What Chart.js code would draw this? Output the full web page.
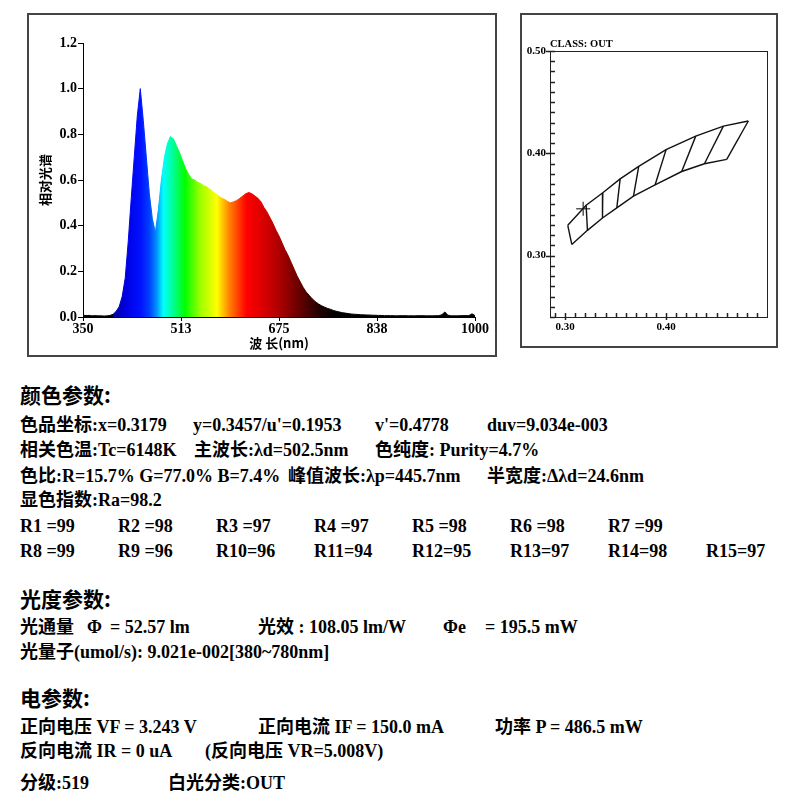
<!DOCTYPE html>
<html>
<head>
<meta charset="utf-8">
<script src="https://cdn.jsdelivr.net/npm/chart.js@4.4.1/dist/chart.umd.min.js"></script>
<style>
body { margin: 0; background: #fff; }
#page { position: relative; width: 800px; height: 800px; overflow: hidden; }
.frame { position: absolute; box-sizing: border-box; border: 2px solid #444; }
canvas { position: absolute; }
.t { position: absolute; white-space: pre; font: bold 18px "Liberation Serif", "Noto Sans CJK SC"; line-height: 20px; color: #000; }
.h { font: bold 21px "Noto Sans CJK SC"; line-height: 26px; }
#cls { position: absolute; left: 550px; top: 38px; font: bold 10.5px "Liberation Serif"; color: #000; }
</style>
</head>
<body>
<div id="page">
  <div class="frame" style="left:27px;top:13px;width:470px;height:344px;"></div>
  <canvas id="spec" width="466" height="340" style="left:29px;top:15px;"></canvas>
  <div class="frame" style="left:520px;top:13px;width:258px;height:335px;"></div>
  <canvas id="cie" width="254" height="331" style="left:522px;top:15px;"></canvas>
  <div id="cls">CLASS: OUT</div>
  <div id="text"></div>
</div>
<script>
// 光谱数据 (nm / 相对光谱)
const wavelengths = [
  350, 355, 360, 365, 370, 375, 380, 385, 390, 395,
  400, 405, 410, 415, 420, 425, 430, 435, 440, 445,
  450, 455, 460, 465, 470, 475, 480, 485, 490, 495,
  500, 505, 510, 515, 520, 525, 530, 535, 540, 545,
  550, 555, 560, 565, 570, 575, 580, 585, 590, 595,
  600, 605, 610, 615, 620, 625, 630, 635, 640, 645,
  650, 655, 660, 665, 670, 675, 680, 685, 690, 695,
  700, 705, 710, 715, 720, 725, 730, 735, 740, 745,
  750, 755, 760, 765, 770, 775, 780, 785, 790, 795,
  800, 810, 820, 830, 840, 850, 860, 870, 880, 890,
  900, 910, 920, 930, 940, 945, 950, 955, 960, 970,
  980, 990, 995, 1000
];
const intensity = [
  0.008, 0.006, 0.007, 0.005, 0.006, 0.005, 0.005, 0.004, 0.005, 0.007,
  0.012, 0.025, 0.045, 0.09, 0.17, 0.33, 0.52, 0.70, 0.88, 1.00,
  0.86, 0.70, 0.54, 0.43, 0.37, 0.47, 0.60, 0.70, 0.76, 0.79,
  0.78, 0.75, 0.72, 0.685, 0.65, 0.625, 0.605, 0.60, 0.59, 0.585,
  0.575, 0.57, 0.56, 0.55, 0.54, 0.53, 0.52, 0.515, 0.505, 0.50,
  0.505, 0.51, 0.52, 0.53, 0.54, 0.545, 0.54, 0.53, 0.52, 0.505,
  0.48, 0.46, 0.435, 0.41, 0.38, 0.355, 0.325, 0.295, 0.27, 0.24,
  0.21, 0.18, 0.155, 0.13, 0.11, 0.095, 0.08, 0.068, 0.058, 0.05,
  0.044, 0.038, 0.034, 0.029, 0.025, 0.022, 0.019, 0.017, 0.015, 0.013,
  0.012, 0.01, 0.009, 0.008, 0.007, 0.006, 0.006, 0.005, 0.006, 0.005,
  0.005, 0.006, 0.005, 0.005, 0.006, 0.01, 0.022, 0.008, 0.005, 0.005,
  0.006, 0.006, 0.014, 0.006
];
const specXTicks = [350, 512.5, 675, 837.5, 1000];
const specYTicks = [0, 0.2, 0.4, 0.6, 0.8, 1.0, 1.2];

// 色坐标分级框 (x, y)
const binTopX = [0.3026, 0.3208, 0.3373, 0.3545, 0.3729, 0.4000, 0.4294, 0.4568, 0.4815];
const binTopY = [0.3296, 0.3493, 0.3615, 0.3750, 0.3872, 0.4036, 0.4168, 0.4266, 0.4316];
const binBottomX = [0.3066, 0.3221, 0.3370, 0.3512, 0.3677, 0.3891, 0.4155, 0.4380, 0.4601];
const binBottomY = [0.3109, 0.3247, 0.3368, 0.3467, 0.3582, 0.3691, 0.3822, 0.3898, 0.3941];
const measuredX = 0.3179;
const measuredY = 0.3457;
const cieXMajor = ['0.30', '0.40'];
const cieYMajor = ['0.30', '0.40', '0.50'];

// 光谱颜色 (nm -> 颜色)
const spectrumStops = [
  [350, '#000000'], [398, '#000000'], [402, '#0000a0'], [420, '#0000e0'],
  [445, '#0010ff'], [460, '#0040ff'], [472, '#0090ff'], [483, '#00ffff'],
  [500, '#00ff90'], [519, '#00ff00'], [545, '#a0ff00'], [572, '#ffff00'],
  [593, '#ff8000'], [621, '#ff0000'], [650, '#d80000'], [682, '#a00000'],
  [712, '#600000'], [742, '#200000'], [770, '#000000'], [1000, '#000000']
];

const rainbow = (ctx) => {
  const chart = ctx.chart;
  if (!chart.chartArea) return '#0000ff';
  const xs = chart.scales.x;
  const x0 = xs.getPixelForValue(350);
  const x1 = xs.getPixelForValue(1000);
  const g = chart.ctx.createLinearGradient(x0, 0, x1, 0);
  spectrumStops.forEach(([w, c]) => g.addColorStop((w - 350) / 650, c));
  return g;
};

const tickFont = { family: 'Liberation Serif', size: 14, weight: 'bold' };

new Chart(document.getElementById('spec').getContext('2d'), {
  type: 'line',
  data: {
    datasets: [{
      data: wavelengths.map((w, i) => ({ x: w, y: intensity[i] })),
      fill: 'origin',
      backgroundColor: rainbow,
      borderColor: rainbow,
      borderWidth: 1,
      pointRadius: 0,
      tension: 0
    }]
  },
  options: {
    responsive: false,
    animation: false,
    layout: { padding: { left: 0, top: 28, right: 20, bottom: 0 } },
    plugins: { legend: { display: false }, tooltip: { enabled: false } },
    scales: {
      x: {
        type: 'linear', min: 350, max: 1000,
        afterBuildTicks: s => { s.ticks = specXTicks.map(v => ({ value: v })); },
        afterFit: s => { s.height = 38; },
        ticks: { callback: v => String(Math.round(v)), font: tickFont, color: '#000', padding: 0, maxRotation: 0 },
        grid: { drawOnChartArea: false, tickLength: 4, color: '#000' },
        border: { color: '#000', width: 1 },
        title: { display: true, text: '波 长(nm)', color: '#000', font: { family: 'Noto Sans CJK SC', size: 13, weight: 'bold' }, padding: { top: 0, bottom: 4 } }
      },
      y: {
        min: 0, max: 1.2,
        afterBuildTicks: s => { s.ticks = specYTicks.map(v => ({ value: v })); },
        afterFit: s => { s.width = 54; },
        ticks: { callback: v => v.toFixed(1), font: tickFont, color: '#000', padding: 1 },
        grid: { drawOnChartArea: false, tickLength: 5, color: '#000' },
        border: { color: '#000', width: 1 },
        title: { display: true, text: '相对光谱', color: '#000', font: { family: 'Noto Sans CJK SC', size: 13, weight: 'bold' }, padding: { top: 8, bottom: 0 } }
      }
    }
  }
});

// 右图: 内侧刻度和外框
const innerTicks = {
  id: 'innerTicks',
  afterDraw(chart) {
    const { ctx, chartArea: a, scales: { x, y } } = chart;
    const isMajor = v => Math.abs(v * 10 - Math.round(v * 10)) < 1e-6;
    ctx.save();
    ctx.strokeStyle = '#222';
    ctx.lineWidth = 1;
    ctx.strokeRect(a.left + 0.5, a.top + 0.5, a.width, a.height);
    ctx.lineWidth = 1.5;
    ctx.beginPath();
    x.ticks.forEach(t => {
      const px = Math.round(x.getPixelForValue(t.value)) + 0.5;
      ctx.moveTo(px, a.bottom + (isMajor(t.value) ? 3 : 0));
      ctx.lineTo(px, a.bottom - 4);
    });
    y.ticks.forEach(t => {
      const py = Math.round(y.getPixelForValue(t.value)) + 0.5;
      ctx.moveTo(a.left - (isMajor(t.value) ? 4 : 0), py);
      ctx.lineTo(a.left + 5, py);
    });
    ctx.stroke();
    ctx.restore();
  }
};

const lineSet = (pts) => ({
  data: pts, showLine: true, borderColor: '#111', borderWidth: 1.4,
  pointRadius: 0, fill: false, tension: 0
});

const cieSets = [
  lineSet(binTopX.map((x, i) => ({ x, y: binTopY[i] }))),
  lineSet(binBottomX.map((x, i) => ({ x, y: binBottomY[i] })))
];
binTopX.forEach((x, i) => {
  cieSets.push(lineSet([{ x, y: binTopY[i] }, { x: binBottomX[i], y: binBottomY[i] }]));
});
cieSets.push({
  data: [{ x: measuredX, y: measuredY }],
  pointStyle: 'cross', pointRadius: 7, borderColor: '#555', borderWidth: 1.5,
  backgroundColor: '#555'
});

const cieFont = { family: 'Liberation Serif', size: 11, weight: 'bold' };
const majorLabel = (list) => (v) => {
  const s = Number(v).toFixed(2);
  return list.includes(s) ? s : '';
};

new Chart(document.getElementById('cie').getContext('2d'), {
  type: 'scatter',
  data: { datasets: cieSets },
  options: {
    responsive: false,
    animation: false,
    layout: { padding: { left: 0, top: 36, right: 9, bottom: 0 } },
    plugins: { legend: { display: false }, tooltip: { enabled: false } },
    scales: {
      x: {
        type: 'linear', min: 0.285, max: 0.50,
        afterBuildTicks: s => {
          const t = [];
          for (let k = 29; k <= 49; k++) t.push({ value: k / 100 });
          s.ticks = t;
        },
        afterFit: s => { s.height = 29; },
        ticks: { callback: majorLabel(cieXMajor), font: cieFont, color: '#000', padding: 4, autoSkip: false, maxRotation: 0 },
        grid: { display: false, drawTicks: false, tickLength: 0 },
        border: { display: false }
      },
      y: {
        type: 'linear', min: 0.24, max: 0.50,
        ticks: { stepSize: 0.01, callback: majorLabel(cieYMajor), font: cieFont, color: '#000', padding: 4, autoSkip: false },
        afterFit: s => { s.width = 28; },
        grid: { display: false, drawTicks: false, tickLength: 0 },
        border: { display: false }
      }
    }
  },
  plugins: [innerTicks]
});

// 参数文字
const textRows = [
  { y: 394, h: true, segs: [[20, '颜色参数:']] },
  { y: 425, segs: [[20, '色品坐标:x=0.3179'], [193, "y=0.3457/u'=0.1953"], [375, "v'=0.4778"], [487, 'duv=9.034e-003']] },
  { y: 450, segs: [[20, '相关色温:Tc=6148K'], [194, '主波长:λd=502.5nm'], [375, '色纯度: Purity=4.7%']] },
  { y: 476, segs: [[20, '色比:R=15.7% G=77.0% B=7.4%'], [288, '峰值波长:λp=445.7nm'], [487, '半宽度:Δλd=24.6nm']] },
  { y: 500, segs: [[20, '显色指数:Ra=98.2']] },
  { y: 526, segs: [[20, 'R1 =99'], [118, 'R2 =98'], [216, 'R3 =97'], [314, 'R4 =97'], [412, 'R5 =98'], [510, 'R6 =98'], [608, 'R7 =99']] },
  { y: 551, segs: [[20, 'R8 =99'], [118, 'R9 =96'], [216, 'R10=96'], [314, 'R11=94'], [412, 'R12=95'], [510, 'R13=97'], [608, 'R14=98'], [706, 'R15=97']] },
  { y: 598, h: true, segs: [[20, '光度参数:']] },
  { y: 627, segs: [[20, '光通量'], [87, 'Φ'], [110, '= 52.57 lm'], [258, '光效 : 108.05 lm/W'], [443, 'Φe'], [485, '= 195.5 mW']] },
  { y: 652, segs: [[20, '光量子(umol/s): 9.021e-002[380~780nm]']] },
  { y: 697, h: true, segs: [[20, '电参数:']] },
  { y: 727, segs: [[20, '正向电压 VF = 3.243 V'], [258, '正向电流 IF = 150.0 mA'], [495, '功率 P = 486.5 mW']] },
  { y: 751, segs: [[20, '反向电流 IR = 0 uA'], [205, '(反向电压 VR=5.008V)']] },
  { y: 783, segs: [[20, '分级:519'], [168, '白光分类:OUT']] }
];

const textBox = document.getElementById('text');
textRows.forEach(row => {
  row.segs.forEach(([x, s]) => {
    const el = document.createElement('div');
    el.className = row.h ? 't h' : 't';
    el.textContent = s;
    el.style.left = x + 'px';
    el.style.top = (row.y - (row.h ? 13 : 10)) + 'px';
    textBox.appendChild(el);
  });
});
</script>
</body>
</html>
